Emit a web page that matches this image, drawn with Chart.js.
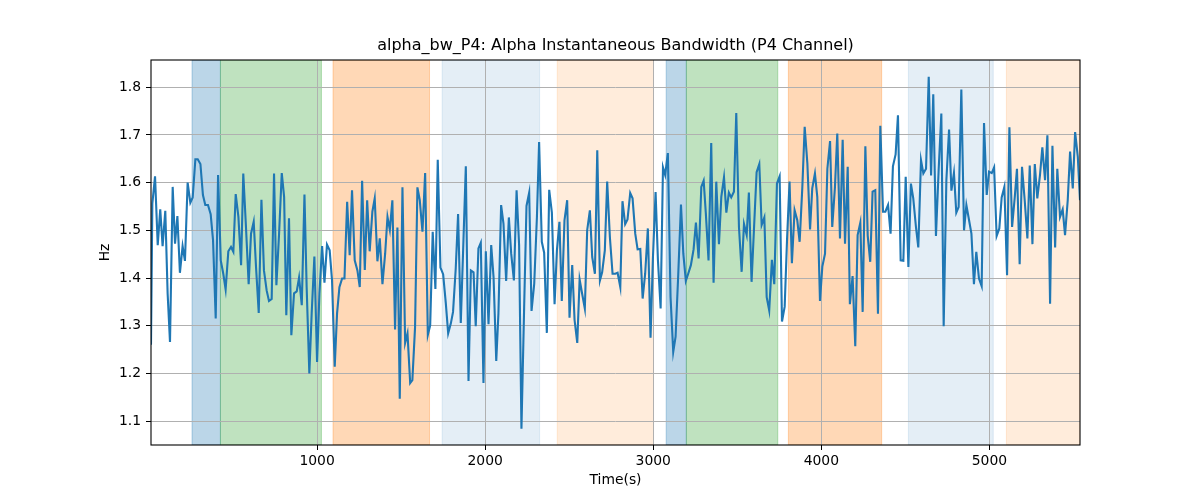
<!DOCTYPE html>
<html>
<head>
<meta charset="utf-8">
<script src="https://cdn.jsdelivr.net/npm/chart.js@4.4.1/dist/chart.umd.min.js"></script>
<style>
  html, body { margin: 0; padding: 0; background: #fff; }
  #wrap { width: 1200px; height: 500px; }
</style>
</head>
<body>
<div id="wrap"><canvas id="chart" width="1200" height="500"></canvas></div>
<script>
// time (s) and alpha instantaneous bandwidth (Hz)
const times = [
  12,20,36,52,67,81,97,111,125,141,155,169,184,200,214,230,246,260,276,290,
  306,321,335,351,367,381,397,411,427,442,456,472,488,502,516,532,548,561,577,593,
  607,623,637,653,669,
  684,700,714,730,744,758,774,790,804,817,833,847,863,879,893,909,925,938,954,968,
  984,1000,1014,1030,1044,1059,1075,1089,1105,1119,1133,1149,1163,1179,1194,1208,1224,1240,1254,1268,
  1284,1298,1313,1329,1343,1359,1373,
  1389,1405,1419,1433,1448,1464,1478,1492,1508,1524,1538,1554,1567,1583,1597,1611,1627,1643,1659,1673,
  1688,1704,1718,1734,1750,1766,1780,1796,1809,1825,1839,1855,1871,1885,1901,1915,1931,1944,1960,1974,
  1990,2004,2020,2036,
  2050,2066,2079,2095,2109,2125,2141,2155,2171,2187,2202,2216,2232,2246,2262,2276,2292,2308,2321,2337,
  2351,2367,2381,2397,2413,2427,2442,2456,2472,2488,2502,2518,2532,2548,2562,2577,2593,2607,2623,2637,
  2653,2667,2683,2696,2712,2726,2742,
  2758,2774,2788,2804,2817,2833,2847,2863,2877,2893,2907,2923,2937,2952,2968,2984,2998,3014,3028,3044,
  3058,3071,3087,3103,3119,3133,3149,3165,3179,3194,3208,3224,3240,3254,3270,3286,3300,3313,3329,3345,
  3359,3375,3391,3405,3421,
  3435,3450,3464,3480,3494,3510,3526,3540,3556,3569,3585,3599,3615,3631,3645,3661,3675,3690,3706,3720,
  3736,3752,3766,3782,3796,3811,3825,3841,3857,3871,3887,3901,3917,3933,3946,3962,3976,3992,4006,4022,
  4036,4052,4065,4081,4095,4111,
  4127,4141,4157,4170,4186,4202,4216,4232,4246,4262,4276,4291,4305,4321,4337,4351,4367,4381,4397,4412,
  4426,4442,4456,4472,4488,4502,4518,4533,4547,4563,4577,4593,4607,4623,4639,4653,4666,4682,4698,4714,
  4728,4744,4760,4774,4789,
  4803,4817,4833,4849,4863,4879,4893,4908,4922,4938,4954,4968,4984,4998,5014,5028,5043,5059,5073,5089,
  5105,5119,5135,5151,5164,5180,5194,5210,5226,5240,5256,5270,5285,5301,5315,5331,5345,5361,5375,5391,
  5404,5420,5436,5450,5466,5480,5496,5510,5526,5539
];
const hz = [
  1.26,1.556,1.613,1.469,1.544,1.467,1.541,1.367,1.266,1.591,1.472,1.530,1.411,1.467,1.436,1.600,1.558,1.569,1.649,1.649,
  1.639,1.574,1.553,1.553,1.534,1.480,1.315,1.616,1.437,1.409,1.376,1.456,1.465,1.455,1.576,1.528,1.427,1.619,1.507,1.387,
  1.493,1.518,1.422,1.327,1.564,
  1.416,1.374,1.352,1.356,1.619,1.385,1.493,1.620,1.570,1.322,1.525,1.280,1.368,1.372,1.401,1.343,1.575,1.381,1.200,1.326,
  1.445,1.224,1.367,1.467,1.390,1.470,1.458,1.395,1.214,1.326,1.381,1.399,1.399,1.560,1.448,1.584,1.437,1.416,1.381,1.604,
  1.417,1.563,1.456,1.539,1.567,1.435,1.483,
  1.387,1.451,1.528,1.501,1.563,1.292,1.506,1.147,1.590,1.264,1.284,1.180,1.186,1.297,1.590,1.563,1.497,1.620,1.281,1.301,
  1.497,1.377,1.648,1.422,1.408,1.347,1.284,1.305,1.329,1.420,1.534,1.306,1.480,1.634,1.184,1.416,1.412,1.299,1.462,1.474,
  1.180,1.456,1.303,1.469,
  1.402,1.226,1.326,1.553,1.514,1.394,1.527,1.451,1.395,1.584,1.469,1.084,1.339,1.551,1.579,1.331,1.388,1.528,1.685,1.476,
  1.453,1.285,1.585,1.537,1.345,1.458,1.518,1.352,1.521,1.563,1.317,1.427,1.312,1.264,1.397,1.367,1.336,1.500,1.542,1.444,
  1.409,1.668,1.395,1.412,1.458,1.602,1.486,
  1.409,1.409,1.411,1.381,1.561,1.513,1.523,1.578,1.567,1.493,1.460,1.461,1.357,1.409,1.504,1.275,1.441,1.580,1.437,1.336,
  1.632,1.616,1.662,1.360,1.245,1.277,1.409,1.554,1.451,1.394,1.409,1.427,1.460,1.516,1.441,1.591,1.604,1.535,1.437,1.683,
  1.390,1.602,1.471,1.570,1.611,
  1.537,1.579,1.569,1.581,1.746,1.507,1.413,1.513,1.490,1.579,1.392,1.500,1.622,1.639,1.511,1.527,1.360,1.332,1.438,1.387,
  1.598,1.613,1.309,1.340,1.480,1.602,1.431,1.542,1.521,1.476,1.590,1.717,1.640,1.502,1.588,1.619,1.570,1.352,1.424,1.451,
  1.629,1.687,1.507,1.590,1.703,1.483,
  1.690,1.472,1.633,1.345,1.404,1.257,1.490,1.516,1.329,1.676,1.489,1.434,1.581,1.584,1.325,1.719,1.539,1.539,1.553,1.493,
  1.634,1.659,1.741,1.437,1.436,1.612,1.423,1.598,1.567,1.507,1.464,1.647,1.619,1.629,1.822,1.615,1.785,1.488,1.626,1.745,
  1.299,1.605,1.711,1.583,1.620,
  1.537,1.549,1.795,1.500,1.553,1.521,1.493,1.387,1.455,1.399,1.383,1.725,1.574,1.623,1.620,1.632,1.488,1.504,1.569,1.591,
  1.406,1.716,1.507,1.570,1.629,1.429,1.633,1.563,1.483,1.636,1.471,1.639,1.567,1.616,1.674,1.605,1.699,1.346,1.677,1.464,
  1.629,1.528,1.544,1.490,1.563,1.665,1.588,1.706,1.654,1.563
];

// shaded segments (state index -> colour below)
const spanStart = [256, 425, 1095, 1744, 2429, 3077, 3197, 3804, 4518, 5101];
const spanEnd   = [425, 1026, 1669, 2324, 3002, 3197, 3741, 4359, 5023, 5539];
const spanState = [0, 1, 2, 3, 4, 0, 1, 2, 3, 4];

const xTicks = [1000, 2000, 3000, 4000, 5000];
const yTicks = [1.1, 1.2, 1.3, 1.4, 1.5, 1.6, 1.7, 1.8];

const titleText = 'alpha_bw_P4: Alpha Instantaneous Bandwidth (P4 Channel)';

const stateColors = [
  'rgba(31,119,180,0.3)',
  'rgba(44,160,44,0.3)',
  'rgba(255,127,14,0.3)',
  'rgba(31,119,180,0.12)',
  'rgba(255,127,14,0.15)'
];

Chart.defaults.font.family = "'DejaVu Sans', sans-serif";
Chart.defaults.color = '#000';

const tickFont = { size: 13.9 };

const spans = {
  id: 'spans',
  beforeDraw(chart) {
    const { ctx, chartArea: a, scales: { x } } = chart;
    ctx.save();
    ctx.beginPath();
    ctx.rect(a.left, a.top, a.width, a.height);
    ctx.clip();
    spanStart.forEach((s, i) => {
      const x0 = x.getPixelForValue(s);
      const x1 = x.getPixelForValue(spanEnd[i]);
      ctx.fillStyle = stateColors[spanState[i]];
      ctx.fillRect(x0, a.top, x1 - x0, a.height);
      ctx.strokeStyle = stateColors[spanState[i]];
      ctx.lineWidth = 1;
      ctx.strokeRect(x0, a.top, x1 - x0, a.height);
    });
    ctx.restore();
  },
  afterDatasetsDraw(chart) {
    const { ctx, chartArea: a } = chart;
    ctx.save();
    ctx.strokeStyle = '#000';
    ctx.lineWidth = 1.1;
    ctx.strokeRect(a.left, a.top, a.width, a.height);
    // title centred over the axes, as matplotlib does
    ctx.fillStyle = '#000';
    ctx.font = "16px 'DejaVu Sans', sans-serif";
    ctx.textAlign = 'center';
    ctx.textBaseline = 'middle';
    ctx.fillText(titleText, (a.left + a.right) / 2, 46);
    ctx.restore();
  }
};

new Chart(document.getElementById('chart'), {
  type: 'line',
  data: {
    datasets: [{
      label: 'alpha_bw_P4',
      data: times.map((t, i) => ({ x: t, y: hz[i] })),
      borderColor: '#1f77b4',
      borderWidth: 2.1,
      pointRadius: 0,
      tension: 0,
      fill: false
    }]
  },
  options: {
    responsive: false,
    animation: false,
    devicePixelRatio: 1,
    layout: { padding: { left: 0, right: 120, top: 60, bottom: 0 } },
    plugins: {
      legend: { display: false },
      tooltip: { enabled: false },
      title: { display: false }
    },
    scales: {
      x: {
        type: 'linear',
        min: 12,
        max: 5539,
        afterBuildTicks: (s) => { s.ticks = xTicks.map((v) => ({ value: v })); },
        afterFit: (s) => { s.height = 55; },
        ticks: { font: tickFont, padding: 3, maxRotation: 0, autoSkip: false, callback: (v) => String(v) },
        grid: { color: '#b0b0b0', lineWidth: 1, tickColor: '#000', tickLength: 5 },
        border: { display: false },
        title: { display: true, text: 'Time(s)', font: tickFont, padding: { top: 11, bottom: 11 } }
      },
      y: {
        min: 1.05,
        max: 1.857,
        afterBuildTicks: (s) => { s.ticks = yTicks.map((v) => ({ value: v })); },
        afterFit: (s) => { s.width = 151; },
        ticks: { font: tickFont, padding: 5, autoSkip: false, callback: (v) => v.toFixed(1) },
        grid: { color: '#b0b0b0', lineWidth: 1, tickColor: '#000', tickLength: 5 },
        border: { display: false },
        title: { display: true, text: 'Hz', font: tickFont, padding: { top: 97, bottom: 97 } }
      }
    }
  },
  plugins: [spans]
});
</script>
</body>
</html>
